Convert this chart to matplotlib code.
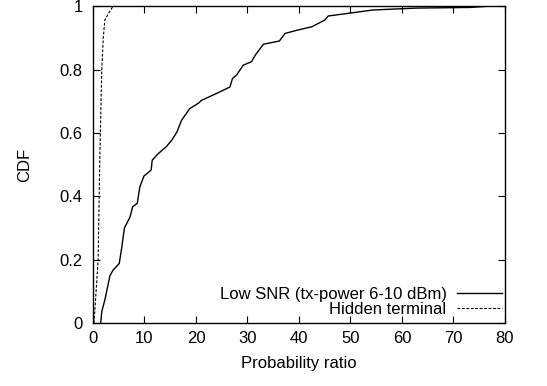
import matplotlib.pyplot as plt
from matplotlib.ticker import FuncFormatter

plt.rcParams['font.family'] = ['Liberation Sans', 'DejaVu Sans']

# valeurs (ratio, CDF)
low_snr_x = [1.5, 1.7, 2.3, 3.3, 3.9, 5.1, 5.6, 6.1, 7.2, 7.7, 8.6, 9.1, 9.9,
             11.3, 11.5, 12.7, 14.2, 15.3, 16.3, 17.2, 18.8, 20.4, 21.1, 24.7,
             26.6, 27.1, 27.9, 29.2, 30.8, 31.5, 33.1, 36.2, 37.3, 39.6, 42.5,
             45.0, 45.7, 54.4, 62.9, 73.2, 77.0]
low_snr_y = [0.0, 0.036, 0.073, 0.15, 0.167, 0.188, 0.24, 0.30, 0.335, 0.367,
             0.378, 0.43, 0.464, 0.483, 0.514, 0.535, 0.556, 0.577, 0.603,
             0.640, 0.677, 0.693, 0.703, 0.730, 0.745, 0.772, 0.783, 0.814,
             0.825, 0.845, 0.880, 0.890, 0.914, 0.924, 0.935, 0.956, 0.969,
             0.988, 0.994, 0.996, 1.0]

hidden_x = [0.2, 0.6, 1.0, 1.3, 1.7, 2.0, 2.3, 3.0, 3.9]
hidden_y = [0.0, 0.1, 0.2, 0.5, 0.8, 0.9, 0.956, 0.977, 1.0]

fig = plt.figure(figsize=(5.47, 3.86), dpi=100)
ax = fig.add_axes([0.170, 0.163, 0.753, 0.821])

ax.plot(low_snr_x, low_snr_y, color='black', linewidth=1.0,
        label='Low SNR (tx-power 6-10 dBm)')
ax.plot(hidden_x, hidden_y, color='black', linewidth=0.8,
        linestyle=(0, (2.5, 1.5)), label='Hidden terminal')

ax.set_xlim(0, 80)
ax.set_ylim(0, 1)
ax.set_xticks(range(0, 81, 10))
ax.set_yticks([0, 0.2, 0.4, 0.6, 0.8, 1.0])
ax.yaxis.set_major_formatter(FuncFormatter(lambda v, p: f'{v:g}'))
ax.tick_params(direction='in', top=True, right=True, length=5, width=0.8,
               labelsize=12)
ax.tick_params(axis='x', pad=6)
ax.tick_params(axis='y', pad=7.5)
for s in ax.spines.values():
    s.set_linewidth(1.0)

ax.set_xlabel('Probability ratio', fontsize=12, labelpad=7)
ax.set_ylabel('CDF', fontsize=12, labelpad=20)

ax.legend(loc='lower right', frameon=False, markerfirst=False, fontsize=12,
          handlelength=2.7, handletextpad=0.6, borderaxespad=0.0,
          borderpad=0.2, labelspacing=0.0, bbox_to_anchor=(1.0, 0.008))
leg = ax.get_legend()
for t in leg.get_texts():
    t.set_ha('right')

fig.savefig('out.png', dpi=100)
